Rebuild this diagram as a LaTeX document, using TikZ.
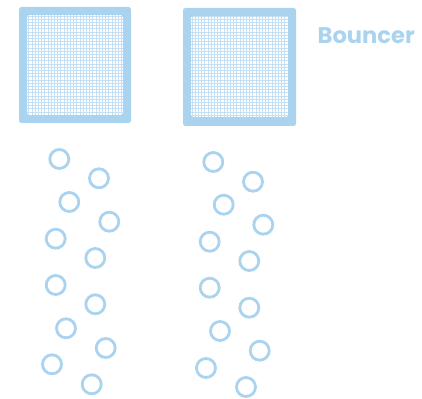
\documentclass[tikz,border=0pt]{standalone}
\usepackage{fontspec}
\setmainfont{Poppins}
\begin{document}
\begin{tikzpicture}[x=1pt,y=-1pt,
  frame/.style={fill=bblue, rounded corners=2.5pt},
  ball/.style={circle, draw=bblue, line width=2.8pt, minimum size=19pt, inner sep=0pt},
  label/.style={text=bblue, font=\bfseries\fontsize{22.6}{27}\selectfont, inner sep=0pt}]
\definecolor{bblue}{HTML}{A9D3EF}
\definecolor{gridc}{HTML}{C4E0F4}
\useasboundingbox (0,0) rectangle (422,398);
% left bouncer
\fill[frame] (19,7) rectangle (131,123);
\begin{scope}
\clip[rounded corners=1.5pt] (27,15) rectangle (123,115);
\fill[white] (27,15) rectangle (123,115);
\draw[gridc, line width=0.9pt, step=3.2pt] (27,15) grid (123,115);
\end{scope}
% right bouncer
\fill[frame] (183,8) rectangle (296,126);
\begin{scope}
\clip[rounded corners=1.5pt] (191,16) rectangle (288,117);
\fill[white] (191,16) rectangle (288,117);
\draw[gridc, line width=0.9pt, step=3.2pt] (191,16) grid (288,117);
\end{scope}
\node[label, anchor=west] (lbl) at (317.5,36) {Bouncer};
% left column balls
\node[ball] (l1) at (59.3,159) {};
\node[ball] (l2) at (99,178.3) {};
\node[ball] (l3) at (69.3,202) {};
\node[ball] (l4) at (109.3,221.7) {};
\node[ball] (l5) at (55.7,238.7) {};
\node[ball] (l6) at (95.3,258) {};
\node[ball] (l7) at (55.7,285) {};
\node[ball] (l8) at (95.3,304.3) {};
\node[ball] (l9) at (66,328.3) {};
\node[ball] (l10) at (105.7,348) {};
\node[ball] (l11) at (52,364.3) {};
\node[ball] (l12) at (91.7,384.3) {};
% right column balls
\node[ball] (r1) at (213.3,162) {};
\node[ball] (r2) at (253,181.7) {};
\node[ball] (r3) at (223.7,204.7) {};
\node[ball] (r4) at (263.3,224.7) {};
\node[ball] (r5) at (209.7,241.7) {};
\node[ball] (r6) at (249.3,261) {};
\node[ball] (r7) at (209.7,287.7) {};
\node[ball] (r8) at (249.3,307.7) {};
\node[ball] (r9) at (220,331) {};
\node[ball] (r10) at (259.7,350.7) {};
\node[ball] (r11) at (206,368) {};
\node[ball] (r12) at (246,387) {};
\end{tikzpicture}
\end{document}
